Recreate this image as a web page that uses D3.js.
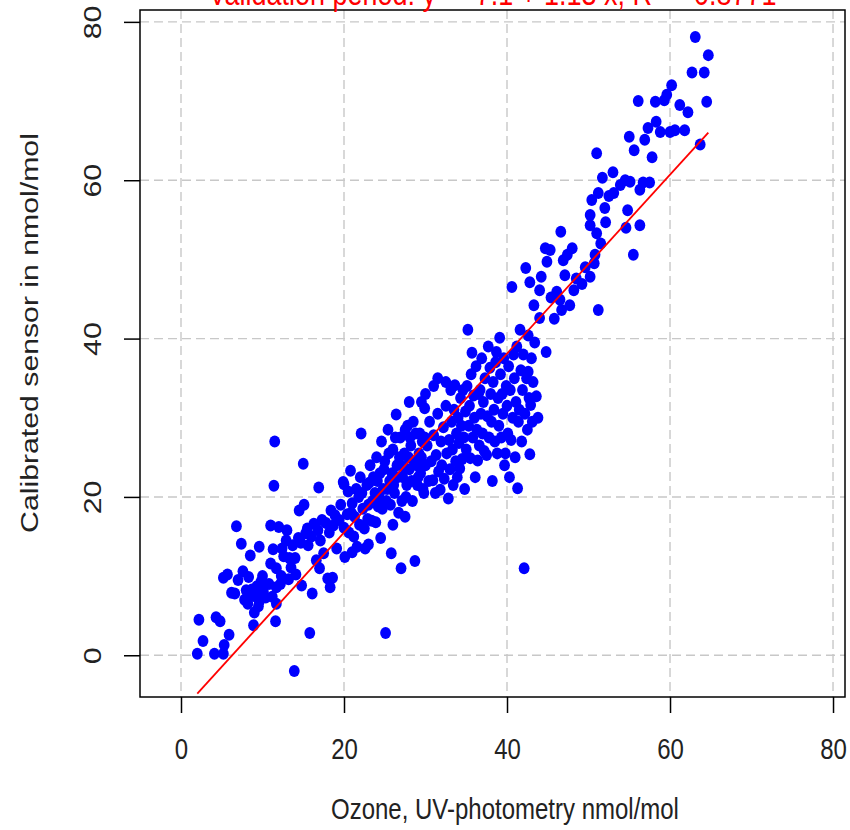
<!DOCTYPE html>
<html>
<head>
<meta charset="utf-8">
<script src="https://cdn.jsdelivr.net/npm/d3@7"></script>
<style>
  html, body { margin: 0; padding: 0; background: #fff; }
  svg { display: block; font-family: "Liberation Sans", Arial, sans-serif; }
</style>
</head>
<body>
<svg id="chart" width="850" height="830"></svg>
<script>
// Paired observations: [ozone by UV photometry, calibrated sensor], nmol/mol
const observations = [
  [2.0,0.2],[2.2,4.5],[2.7,1.8],[4.1,0.2],[4.3,4.8],[4.8,4.3],[5.2,0.2],[5.3,1.3],[5.9,2.6],
  [5.7,10.2],[6.6,7.8],[7.0,9.5],[6.8,16.3],[7.4,14.1],[7.6,10.6],[8.5,12.6],[8.9,3.8],[9.6,13.7],
  [8.2,6.5],[8.6,7.5],[9.0,5.4],[9.3,8.7],[9.8,9.3],[8.0,8.2],[7.8,7.0],[9.5,6.2],[10.0,10.0],
  [5.2,9.8],[6.2,7.9],[8.3,9.9],[8.7,8.3],[9.2,7.4],[9.6,6.8],[10.1,8.1],[10.4,7.3],[10.8,9.0],
  [11.2,7.4],[11.7,8.6],[11.7,6.5],[11.6,4.3],[12.3,10.0],[11.0,11.6],
  [11.0,16.4],[11.4,21.4],[11.5,27.0],[11.3,13.4],[11.7,11.0],[12.6,12.5],[12.9,14.5],[13.3,12.3],
  [13.5,11.1],[13.7,13.9],[13.9,-2.0],[14.1,10.2],[14.4,14.8],[14.5,18.3],[14.7,14.2],[15.0,24.2],
  [15.1,19.0],[15.3,15.4],[15.6,13.9],[15.8,2.8],[16.1,7.8],[16.3,16.6],[16.6,12.0],[16.9,21.2],
  [17.1,14.5],[17.3,17.1],[17.5,12.9],[17.8,16.7],[18.0,9.7],[18.3,8.6],[18.6,9.8],[18.2,15.5],
  [18.4,18.3],[18.7,16.4],[18.9,17.7],[19.1,13.5],[19.4,17.1],[19.6,19.0],[19.9,21.9],[20.0,16.1],
  [20.1,12.4],[20.4,17.8],[20.0,21.6],[12.0,16.2],[13.0,15.8],[12.4,13.5],[14.0,12.3],[15.5,16.0],
  [16.0,15.0],[16.8,15.8],[17.0,11.0],[14.8,8.8],[13.2,9.6],[12.2,9.0],
  [20.5,20.7],[21.0,19.2],[21.3,17.5],[21.6,13.7],[21.8,20.0],[22.1,28.0],[22.3,18.5],[22.5,16.0],
  [22.8,21.5],[23.0,19.0],[23.2,24.0],[23.4,17.0],[23.6,22.5],[23.8,20.5],[24.0,25.0],[24.2,18.8],
  [24.4,23.0],[24.6,27.0],[24.8,21.0],[25.0,24.5],[25.1,2.8],[25.2,19.5],[25.4,28.5],[25.6,22.0],
  [25.8,12.9],[26.0,26.0],[26.2,20.5],[26.4,30.4],[26.5,24.0],[26.7,18.0],[26.9,27.5],[27.0,11.0],
  [27.2,22.5],[27.4,25.5],[27.6,20.0],[27.8,29.0],[28.0,23.5],[28.2,26.5],[28.4,19.5],[28.7,11.9],
  [28.6,24.5],[28.8,28.0],[29.0,21.5],[29.2,25.5],[29.4,23.0],[29.6,27.0],[29.9,31.2],[29.8,20.5],
  [30.0,24.0],
  [20.6,15.5],[20.9,18.0],[21.2,15.0],[21.5,21.0],[21.9,16.5],[22.2,20.5],[22.6,13.5],[22.9,17.2],
  [23.1,21.8],[23.5,19.5],[23.9,16.8],[24.1,22.0],[24.3,20.0],[24.7,18.5],[24.9,23.5],[25.3,21.0],
  [25.5,25.5],[25.7,19.0],[25.9,23.0],[26.1,21.5],[26.3,27.5],[26.6,22.5],[26.8,25.0],[27.1,19.5],
  [27.3,23.8],[27.5,28.5],[27.7,21.5],[27.9,25.0],[28.1,27.5],[28.3,22.0],[28.5,29.5],[28.9,24.0],
  [29.1,22.5],[29.3,28.0],[29.5,25.0],[29.7,21.0],[29.9,27.5],[26.0,16.5],[27.5,17.5],[24.5,14.8],
  [23.0,14.0],[22.0,22.5],[20.8,23.3],[21.0,13.0],[29.5,32.0],[28.0,32.0],[30.0,33.0],[31.0,34.0],
  [32.5,34.5],[31.5,35.0],
  [30.2,26.5],[30.4,22.0],[30.5,29.5],[30.7,24.5],[30.9,22.1],[31.0,27.8],[31.2,20.5],[31.3,25.3],
  [31.5,30.5],[31.6,23.2],[31.8,20.9],[31.9,27.0],[32.0,24.0],[32.2,28.8],[32.3,22.3],[32.5,31.5],
  [32.6,25.5],[32.8,19.8],[32.9,27.2],[33.0,23.5],
  [33.1,33.5],[33.2,29.5],[33.3,26.0],[33.4,21.5],[33.5,31.0],[33.6,34.1],[33.7,24.5],[33.8,28.0],
  [33.9,22.5],[34.0,30.0],[34.1,26.8],[34.2,23.6],[34.3,32.5],[34.4,29.0],[34.5,24.8],[34.6,33.5],
  [34.7,27.5],[34.8,21.0],[34.9,30.8],[35.0,26.0],
  [35.1,34.0],[35.2,41.1],[35.3,29.0],[35.4,31.5],[35.5,24.9],[35.6,35.5],[35.7,38.2],[35.8,27.5],
  [35.9,32.8],[36.0,30.0],[36.1,22.5],[36.2,36.5],[36.3,28.5],[36.4,24.6],[36.5,33.0],[36.6,26.5],
  [36.7,33.5],[36.8,30.5],[36.9,37.5],[37.0,28.0],
  [37.1,32.0],[37.2,25.8],[37.3,35.0],[37.5,25.3],[37.6,30.2],[37.7,39.0],[37.8,27.5],[37.9,36.3],
  [38.0,33.0],[38.1,29.5],[38.2,22.0],[38.3,34.5],[38.4,31.0],[38.5,27.0],[38.6,37.0],[38.7,38.3],
  [38.8,25.5],[38.9,32.5],[39.0,29.0],[39.1,40.1],
  [39.2,35.5],[39.3,27.5],[39.4,33.0],[39.5,30.5],[39.6,37.5],[39.7,24.0],[39.8,25.5],[39.9,34.0],
  [40.0,31.5],[40.1,28.0],[40.2,36.5],[40.3,22.5],[40.4,33.5],[40.5,27.2],[40.6,46.5],[40.7,30.0],
  [40.8,38.0],[40.9,35.0],[41.0,25.0],[41.1,32.0],
  [41.2,39.0],[41.3,21.1],[41.4,29.5],[41.5,31.0],[41.6,41.1],[41.7,36.0],[41.8,27.0],[41.9,33.5],
  [42.0,38.0],[42.1,11.0],[42.2,30.5],[42.3,48.9],[42.4,35.0],[42.5,28.5],[42.6,40.4],[42.6,35.8],
  [42.7,32.5],[42.8,47.1],[42.8,25.4],[42.9,31.6],[43.0,37.5],[43.1,29.5],[43.2,34.5],[43.3,44.2],
  [43.4,39.5],[43.6,32.7],[43.8,30.0],[44.0,42.6],[44.2,47.8],[44.8,38.3],[44.0,46.1],[44.7,51.4],
  [44.9,49.7],
  [45.3,51.2],[45.4,45.2],[46.1,45.9],[46.5,44.9],[46.7,43.6],[47.1,48.0],[46.9,49.9],[47.4,50.6],
  [48.0,51.4],[48.5,47.6],[48.2,46.1],[47.7,44.2],[49.2,46.9],[50.2,47.8],[50.7,49.5],[51.2,43.6],
  [50.8,50.6],[50.2,54.3],[50.2,55.6],[50.4,57.5],[51.2,58.4],[51.7,60.3],[51.0,63.4],[52.0,56.5],
  [52.1,54.7],[51.0,53.3],[53.1,58.4],[53.9,59.4],[54.5,60.0],[54.6,54.0],[54.8,56.2],[55.1,59.8],
  [55.6,63.8],[55.5,50.6],[56.1,70.0],[56.3,54.3],[56.3,58.8],[56.7,59.7],[56.9,65.1],[57.3,66.6],
  [57.5,59.7],[57.8,62.9],[58.2,69.9],[58.3,67.4],[58.8,66.1],[59.3,70.1],[59.6,70.8],[60.2,72.0],
  [60.0,66.1],[60.6,66.3],[61.2,69.5],[61.8,66.3],[62.2,68.6],[62.7,73.6],[63.1,78.1],[63.7,64.5],
  [64.2,73.6],[64.5,69.9],[64.7,75.8],[46.6,53.5],[45.8,42.5],[49.6,49.0],[51.5,52.0],[53.0,61.0],
  [55.0,65.5],[52.5,58.0]
];

// Fitted regression reported in the title
const fitIntercept = -7.1;
const fitSlope = 1.13;
const fitR2 = "0.8771";

const tickValues = [0, 20, 40, 60, 80];
const titleText = "Validation period: y = " + fitIntercept + " + " + fitSlope + " x, R";
const xTitle = "Ozone, UV-photometry nmol/mol";
const yTitle = "Calibrated sensor in nmol/mol";

const svg = d3.select("#chart");
const plot = { left: 140, right: 845, top: 10, bottom: 697 };
const fontSize = 24;
const stretch = 1.26;          // text drawn taller than wide
const textColor = "#222";

const x = d3.scaleLinear().domain([-5.03, 81.47]).range([plot.left, plot.right]);
const y = d3.scaleLinear().domain([-5.27, 81.5]).range([plot.bottom, plot.top]);

svg.append("defs").append("clipPath").attr("id", "plotArea")
  .append("rect")
  .attr("x", plot.left).attr("y", plot.top)
  .attr("width", plot.right - plot.left).attr("height", plot.bottom - plot.top);

// Dashed reference grid
const grid = svg.append("g").attr("stroke", "#c8c8c8").attr("stroke-width", 1.4)
  .attr("stroke-dasharray", "9,5").attr("clip-path", "url(#plotArea)");
grid.selectAll("line.v").data(tickValues).join("line").attr("class", "v")
  .attr("x1", d => x(d)).attr("x2", d => x(d))
  .attr("y1", plot.top).attr("y2", plot.bottom);
grid.selectAll("line.h").data(tickValues).join("line").attr("class", "h")
  .attr("y1", d => y(d)).attr("y2", d => y(d))
  .attr("x1", plot.left).attr("x2", plot.right);

// Observations
svg.append("g").attr("clip-path", "url(#plotArea)")
  .selectAll("ellipse").data(observations).join("ellipse")
  .attr("cx", d => x(d[0])).attr("cy", d => y(d[1]))
  .attr("rx", 5.4).attr("ry", 6).attr("fill", "#0000ff");

// Regression line over the observed range
const xExtent = d3.extent(observations, d => d[0]);
svg.append("path").attr("clip-path", "url(#plotArea)")
  .datum(xExtent)
  .attr("d", d3.line().x(d => x(d)).y(d => y(fitIntercept + fitSlope * d)))
  .attr("stroke", "#ff0000").attr("stroke-width", 1.8).attr("fill", "none");

// Box
svg.append("rect")
  .attr("x", plot.left).attr("y", plot.top)
  .attr("width", plot.right - plot.left).attr("height", plot.bottom - plot.top)
  .attr("fill", "none").attr("stroke", "#000").attr("stroke-width", 1.5);

// Axes
const xAxis = svg.append("g").attr("transform", `translate(0,${plot.bottom})`)
  .call(d3.axisBottom(x).tickValues(tickValues).tickSize(16).tickSizeOuter(0));
xAxis.select(".domain").remove();
xAxis.selectAll("line").attr("stroke", "#000").attr("stroke-width", 1.5);
xAxis.selectAll("text")
  .attr("y", null).attr("dy", "0.36em")
  .attr("transform", `translate(0,${748 - plot.bottom}) scale(1,${stretch})`)
  .attr("font-size", fontSize).attr("fill", textColor)
  .attr("font-family", "Liberation Sans, Arial, sans-serif");

const yAxis = svg.append("g").attr("transform", `translate(${plot.left},0)`)
  .call(d3.axisLeft(y).tickValues(tickValues).tickSize(16).tickSizeOuter(0));
yAxis.select(".domain").remove();
yAxis.selectAll("line").attr("stroke", "#000").attr("stroke-width", 1.5);
yAxis.selectAll("text")
  .attr("x", null).attr("dy", "0.36em")
  .attr("text-anchor", "middle")
  .attr("transform", `translate(-48,0) scale(1,${stretch}) rotate(-90)`)
  .attr("font-size", fontSize).attr("fill", textColor)
  .attr("font-family", "Liberation Sans, Arial, sans-serif");

// Axis titles
svg.append("text")
  .attr("transform", `translate(505,808) scale(1,${stretch})`)
  .attr("dy", "0.36em")
  .attr("text-anchor", "middle").attr("font-size", fontSize).attr("fill", textColor)
  .text(xTitle);
svg.append("text")
  .attr("transform", `translate(29,333) scale(1,${stretch}) rotate(-90)`)
  .attr("dy", "0.36em")
  .attr("text-anchor", "middle").attr("font-size", fontSize).attr("fill", textColor)
  .text(yTitle);

// Title (partly above the page edge)
const title = svg.append("text")
  .attr("transform", `translate(${(plot.left + plot.right) / 2},5) scale(1,${stretch})`)
  .attr("text-anchor", "middle").attr("font-size", 27).attr("fill", "#ff0000");
title.append("tspan").text(titleText);
title.append("tspan").attr("dy", -9).attr("font-size", 20).text("2");
title.append("tspan").attr("dy", 9).text(" = " + fitR2);
</script>
</body>
</html>
